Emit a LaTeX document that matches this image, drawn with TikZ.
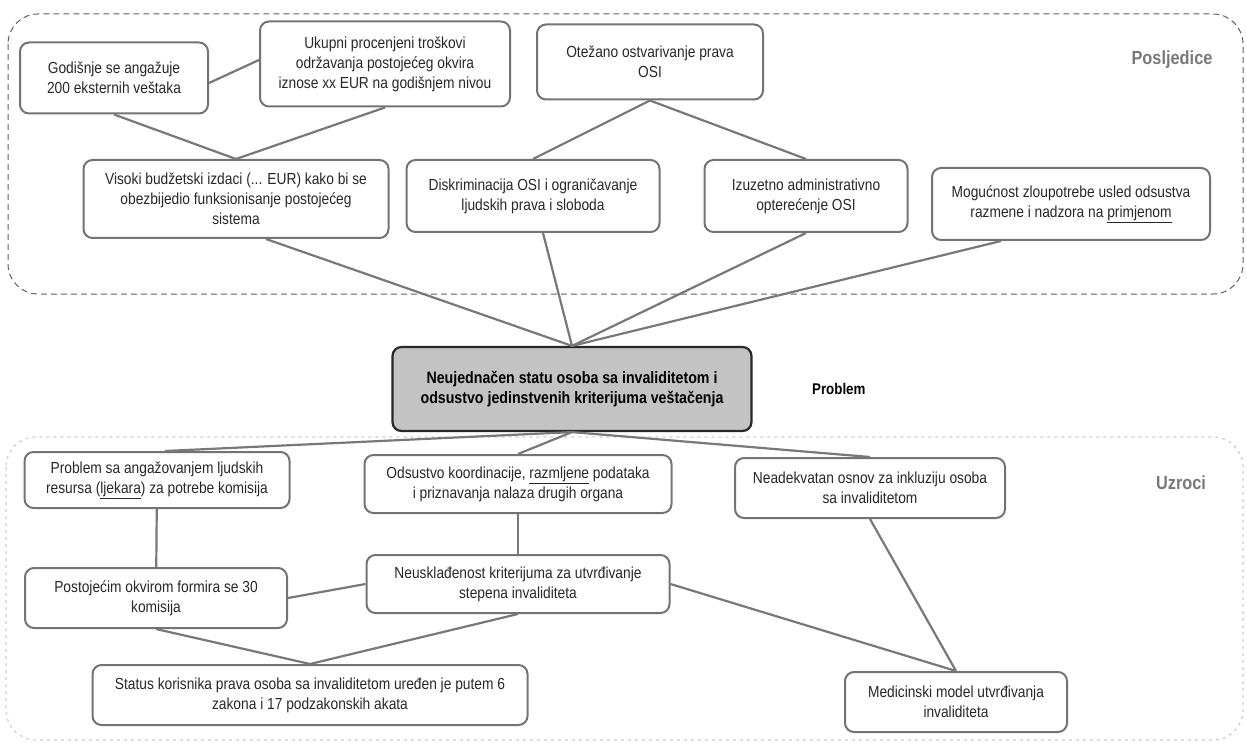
\documentclass[tikz,border=0pt]{standalone}
\usepackage{fontspec}
\setmainfont{Liberation Sans}[FakeStretch=0.86]
\usepackage{tikz}
\usetikzlibrary{positioning}

\definecolor{txtgray}{RGB}{40,40,40}
\definecolor{boxline}{RGB}{115,115,115}
\definecolor{linkgray}{RGB}{120,120,120}
\definecolor{centerfill}{RGB}{195,195,195}
\definecolor{centerline}{RGB}{40,40,40}
\definecolor{regiontop}{RGB}{95,95,95}
\definecolor{regionbottom}{RGB}{205,205,205}
\definecolor{labelgray}{RGB}{120,120,120}

\begin{document}
\begin{tikzpicture}[
            x=1pt, y=-1pt,
            every node/.style={font=\fontsize{16}{20}\selectfont, text=txtgray},
            box/.style={draw=boxline, line width=2pt, rounded corners=9pt, fill=white, align=center, inner sep=3pt},
            problembox/.style={box, draw=centerline, line width=2.2pt, fill=centerfill, text=black, font=\fontsize{16.5}{20}\selectfont\bfseries},
            link/.style={draw=linkgray, line width=2.2pt},
            regionlabel/.style={font=\fontsize{19}{22}\selectfont\bfseries, text=labelgray}
        ]
    \useasboundingbox (0,0) rectangle (1247,751);

    % Regions
    \draw[regiontop, line width=1pt, dash pattern=on 6pt off 4pt, rounded corners=30pt] (8,14) rectangle (1243,294);
    \draw[regionbottom, line width=1.2pt, dash pattern=on 3pt off 4pt, rounded corners=30pt] (6,437) rectangle (1243,740);
    \node[regionlabel] (Posljedice) at (1172,60) {Posljedice};
    \node[regionlabel] (Uzroci) at (1181,483) {Uzroci};

    % Posljedice
    \node[box, minimum width=188pt, minimum height=71pt] (Godisnje) at (114,78) {Godišnje se angažuje\\200 eksternih veštaka};
    \node[box, minimum width=250pt, minimum height=85pt] (Ukupni) at (385,64) {Ukupni procenjeni troškovi\\održavanja postojećeg okvira\\iznose xx EUR na godišnjem nivou};
    \node[box, minimum width=226pt, minimum height=75pt] (Otezano) at (650,62) {Otežano ostvarivanje prava\\OSI};
    \node[box, minimum width=305pt, minimum height=78pt] (Visoki) at (236,199) {Visoki budžetski izdaci (... EUR) kako bi se\\obezbijedio funksionisanje postojećeg\\sistema};
    \node[box, minimum width=253pt, minimum height=72pt] (Diskriminacija) at (533,196) {Diskriminacija OSI i ograničavanje\\ljudskih prava i sloboda};
    \node[box, minimum width=203pt, minimum height=72pt] (Izuzetno) at (806,196) {Izuzetno administrativno\\opterećenje OSI};
    \node[box, minimum width=278pt, minimum height=72pt] (Zloupotreba) at (1071,204) {Mogućnost zloupotrebe usled odsustva\\razmene i nadzora na \underline{primjenom}};

    % Problem
    \node[problembox, minimum width=359pt, minimum height=84pt] (Problem) at (572,389) {Neujednačen statu osoba sa invaliditetom i\\odsustvo jedinstvenih kriterijuma veštačenja};
    \node[font=\fontsize{15.5}{18}\selectfont\bfseries, text=black, right=56pt of Problem] (ProblemLabel) {Problem};

    % Uzroci
    \node[box, minimum width=265pt, minimum height=56pt] (Angazovanje) at (157,480) {Problem sa angažovanjem ljudskih\\resursa (\underline{ljekara}) za potrebe komisija};
    \node[box, minimum width=307pt, minimum height=58pt] (Koordinacija) at (518,484) {Odsustvo koordinacije, \underline{razmljene} podataka\\i priznavanja nalaza drugih organa};
    \node[box, minimum width=270pt, minimum height=60pt] (Inkluzija) at (870,488) {Neadekvatan osnov za inkluziju osoba\\sa invaliditetom};
    \node[box, minimum width=262pt, minimum height=60pt] (Komisije) at (156,598) {Postojećim okvirom formira se 30\\komisija};
    \node[box, minimum width=303pt, minimum height=58pt] (Neuskladjenost) at (518,584) {Neusklađenost kriterijuma za utvrđivanje\\stepena invaliditeta};
    \node[box, minimum width=435pt, minimum height=60pt] (Status) at (310,695) {Status korisnika prava osoba sa invaliditetom uređen je putem 6\\zakona i 17 podzakonskih akata};
    \node[box, minimum width=222pt, minimum height=60pt] (Medicinski) at (956,702) {Medicinski model utvrđivanja\\invaliditeta};

    % Lines in Posljedice
    \draw[link] ([yshift=-5pt]Godisnje.east) -- ([yshift=4pt]Ukupni.west);
    \draw[link] (Godisnje.south) -- (Visoki.north);
    \draw[link] (Ukupni.south) -- (Visoki.north);
    \draw[link] (Otezano.south) -- (Diskriminacija.north);
    \draw[link] (Otezano.south) -- (Izuzetno.north);

    % Lines to the problem
    \draw[link] ([xshift=30pt]Visoki.south) -- (Problem.north);
    \draw[link] ([xshift=10pt]Diskriminacija.south) -- (Problem.north);
    \draw[link] (Izuzetno.south) -- (Problem.north);
    \draw[link] ([xshift=-70pt]Zloupotreba.south) -- (Problem.north);
    \draw[link] (Problem.south) -- ([xshift=8pt]Angazovanje.north);
    \draw[link] (Problem.south) -- (Koordinacija.north);
    \draw[link] (Problem.south) -- (Inkluzija.north);

    % Lines in Uzroci
    \draw[link] (Angazovanje) -- (Komisije);
    \draw[link] (Koordinacija) -- (Neuskladjenost);
    \draw[link] (Komisije.east) -- (Neuskladjenost.west);
    \draw[link] (Komisije.south) -- (Status.north);
    \draw[link] (Neuskladjenost.south) -- (Status.north);
    \draw[link] (Neuskladjenost.east) -- (Medicinski.north);
    \draw[link] (Inkluzija.south) -- (Medicinski.north);

\end{tikzpicture}
\end{document}
